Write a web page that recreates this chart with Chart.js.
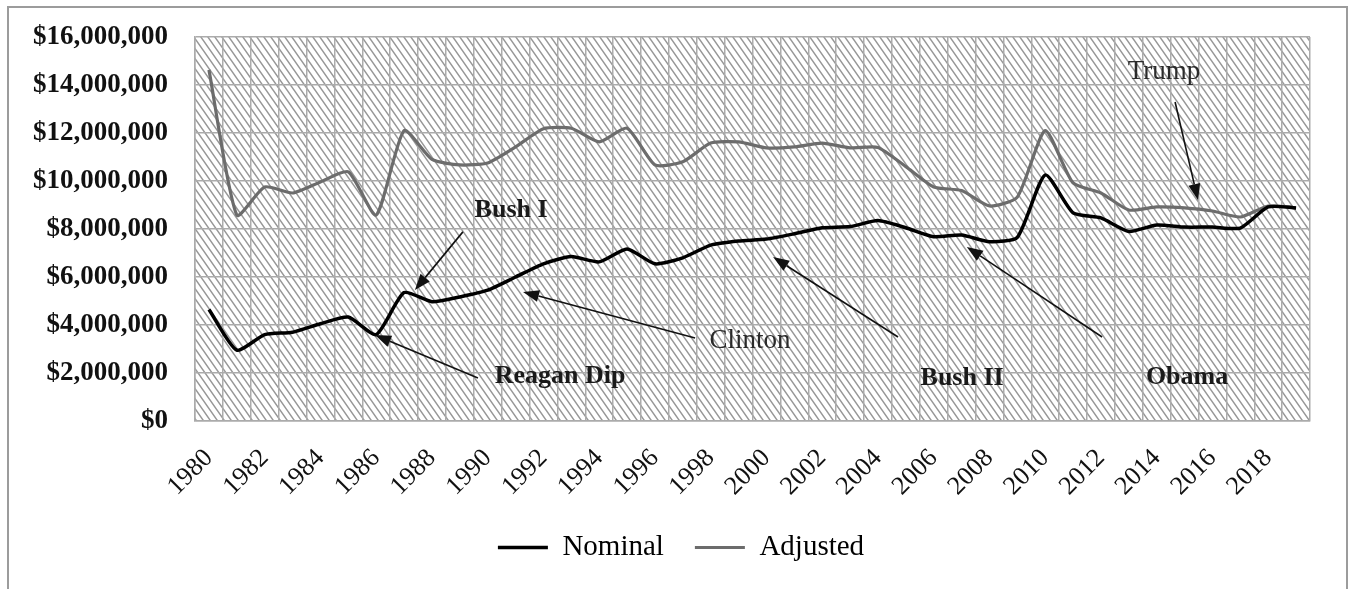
<!DOCTYPE html>
<html>
<head>
<meta charset="utf-8">
<title>Nominal and Adjusted, 1980-2019</title>
<script src="https://cdn.jsdelivr.net/npm/chart.js@4.4.1/dist/chart.umd.min.js"></script>
<style>
  html, body { margin: 0; padding: 0; background: #fff; }
  #wrap { width: 1349px; height: 589px; position: relative; }
</style>
</head>
<body>
<div id="wrap"><canvas id="chart"></canvas></div>
<script>
// Years on the category axis
const years = ['1980', '1981', '1982', '1983', '1984', '1985', '1986', '1987', '1988', '1989',
               '1990', '1991', '1992', '1993', '1994', '1995', '1996', '1997', '1998', '1999',
               '2000', '2001', '2002', '2003', '2004', '2005', '2006', '2007', '2008', '2009',
               '2010', '2011', '2012', '2013', '2014', '2015', '2016', '2017', '2018', '2019'];

// Nominal dollars per year
const nominal = [4650000, 2950000, 3600000, 3700000, 4050000, 4330000, 3600000, 5350000, 4970000, 5170000,
                 5450000, 6000000, 6550000, 6850000, 6630000, 7170000, 6550000, 6800000, 7330000, 7500000,
                 7580000, 7800000, 8050000, 8100000, 8350000, 8050000, 7680000, 7750000, 7470000, 7650000,
                 10250000, 8670000, 8460000, 7900000, 8170000, 8080000, 8080000, 8040000, 8920000, 8880000];

// Inflation-adjusted dollars per year
const adjusted = [14630000, 8580000, 9750000, 9500000, 9960000, 10380000, 8580000, 12100000, 10900000, 10670000,
                  10750000, 11420000, 12180000, 12200000, 11630000, 12200000, 10670000, 10800000, 11580000, 11630000,
                  11380000, 11420000, 11580000, 11380000, 11400000, 10600000, 9750000, 9600000, 8960000, 9330000,
                  12100000, 9920000, 9500000, 8790000, 8920000, 8880000, 8750000, 8500000, 8960000, 8880000];

// Value axis range and step
const yMin = 0;
const yMax = 16000000;
const yStep = 2000000;

// Callouts: label anchor, arrow tail and arrow head, in (year index, $ millions)
const notes = [
  { text: 'Bush I',     bold: true,  at: [10.84, 8.79],  from: [9.11, 7.88],  to: [7.39, 5.46] },
  { text: 'Reagan Dip', bold: true,  at: [12.6, 1.88],   from: [9.65, 1.79],  to: [5.96, 3.58] },
  { text: 'Clinton',    bold: false, at: [19.41, 3.33],  from: [17.44, 3.46], to: [11.27, 5.38] },
  { text: 'Bush II',    bold: true,  at: [27.02, 1.79],  from: [24.72, 3.5],  to: [20.24, 6.83] },
  { text: 'Obama',      bold: true,  at: [35.09, 1.83],  from: [32.04, 3.5],  to: [27.19, 7.25] },
  { text: 'Trump',      bold: false, at: [34.26, 14.54], from: [34.66, 13.29], to: [35.48, 9.21] }
];

const SERIF = "'Liberation Serif', 'Times New Roman', serif";
const GRID = '#ababab';
const Y_FONT = { family: SERIF, size: 27, weight: 'bold', lineHeight: 1.2 };
const Y_GAP = 27;   // space between the value labels and the plot

const money = v => '$' + Number(v).toLocaleString('en-US');

// width of the widest value label, so the labels can be right-aligned beside the plot
function widestValueLabel() {
  const g = document.createElement('canvas').getContext('2d');
  g.font = 'bold 27px ' + SERIF;
  let w = 0;
  for (let v = yMin; v <= yMax; v += yStep) w = Math.max(w, g.measureText(money(v)).width);
  return w;
}
const yLabelWidth = widestValueLabel();

// Diagonal hatch used as the plot background
function makeHatch(ctx) {
  const w = 7, h = 10;
  const tile = document.createElement('canvas');
  tile.width = w; tile.height = h;
  const g = tile.getContext('2d');
  g.fillStyle = '#ffffff';
  g.fillRect(0, 0, w, h);
  g.strokeStyle = '#979797';
  g.lineWidth = 1.5;
  g.beginPath();
  for (let k = -1; k <= 1; k++) {
    g.moveTo(k * w - w, -h);
    g.lineTo(k * w + 2 * w, 2 * h);
  }
  g.stroke();
  return ctx.createPattern(tile, 'repeat');
}

const backdrop = {
  id: 'backdrop',
  beforeDraw(chart) {
    const { ctx, chartArea: a } = chart;
    ctx.save();
    ctx.fillStyle = '#ffffff';
    ctx.fillRect(0, 0, chart.width, chart.height);
    if (!chart.$hatch) chart.$hatch = makeHatch(ctx);
    ctx.fillStyle = chart.$hatch;
    ctx.fillRect(a.left, a.top, a.right - a.left, a.bottom - a.top);
    // outer frame
    ctx.strokeStyle = '#9c9c9c';
    ctx.lineWidth = 2;
    ctx.beginPath();
    ctx.moveTo(8, chart.height + 10);
    ctx.lineTo(8, 7);
    ctx.lineTo(chart.width - 2, 7);
    ctx.lineTo(chart.width - 2, chart.height + 10);
    ctx.stroke();
    ctx.restore();
  }
};

const callouts = {
  id: 'callouts',
  afterDatasetsDraw(chart) {
    const { ctx, scales: { x, y } } = chart;
    const pt = p => [x.getPixelForValue(p[0]), y.getPixelForValue(p[1] * 1e6)];
    ctx.save();
    notes.forEach(n => {
      const [x0, y0] = pt(n.from);
      const [x1, y1] = pt(n.to);
      const ang = Math.atan2(y1 - y0, x1 - x0);
      const len = 16, half = 6;
      const bx = x1 - len * Math.cos(ang), by = y1 - len * Math.sin(ang);
      ctx.strokeStyle = '#111';
      ctx.fillStyle = '#111';
      ctx.lineWidth = 1.6;
      ctx.beginPath();
      ctx.moveTo(x0, y0);
      ctx.lineTo(bx, by);
      ctx.stroke();
      ctx.beginPath();
      ctx.moveTo(x1, y1);
      ctx.lineTo(bx + half * Math.sin(ang), by - half * Math.cos(ang));
      ctx.lineTo(bx - half * Math.sin(ang), by + half * Math.cos(ang));
      ctx.closePath();
      ctx.fill();

      const [tx, ty] = pt(n.at);
      ctx.font = (n.bold ? 'bold 26px ' : '27px ') + SERIF;
      ctx.fillStyle = n.bold ? '#1a1a1a' : '#2a2a2a';
      ctx.textAlign = 'center';
      ctx.textBaseline = 'middle';
      ctx.fillText(n.text, tx, ty);
    });
    ctx.restore();
  }
};

new Chart(document.getElementById('chart'), {
  type: 'line',
  data: {
    labels: years,
    datasets: [
      {
        label: 'Nominal',
        data: nominal,
        borderColor: '#000000',
        backgroundColor: '#000000',
        borderWidth: 3.5,
        pointRadius: 0,
        tension: 0.2,
        borderJoinStyle: 'round',
        order: 1
      },
      {
        label: 'Adjusted',
        data: adjusted,
        borderColor: '#6c6c6c',
        backgroundColor: '#6c6c6c',
        borderWidth: 3.2,
        pointRadius: 0,
        tension: 0.2,
        borderJoinStyle: 'round',
        order: 2
      }
    ]
  },
  options: {
    responsive: true,
    maintainAspectRatio: false,
    animation: false,
    devicePixelRatio: 1,
    layout: { padding: { top: 37, right: 39, left: 52, bottom: 17 } },
    plugins: {
      tooltip: { enabled: false },
      legend: {
        position: 'bottom',
        labels: {
          usePointStyle: true,
          pointStyle: 'line',
          pointStyleWidth: 50,
          padding: 31,
          color: '#000',
          font: { family: SERIF, size: 29 }
        }
      }
    },
    scales: {
      x: {
        offset: true,
        grid: { offset: true, color: GRID, lineWidth: 1.5, drawTicks: false },
        border: { color: GRID, width: 1.5 },
        ticks: {
          autoSkip: false,
          minRotation: 45,
          maxRotation: 45,
          padding: 22,
          color: '#111',
          font: { family: SERIF, size: 26 },
          callback: (v, i) => (i % 2 === 0 ? years[i] : '')
        },
        afterFit: s => { s.height = 81; }
      },
      y: {
        min: yMin,
        max: yMax,
        grid: { color: GRID, lineWidth: 1.5, drawTicks: false },
        border: { color: GRID, width: 1.5 },
        ticks: {
          stepSize: yStep,
          // labels are placed from the axis line, right-aligned, Y_GAP to its left
          mirror: true,
          crossAlign: 'far',
          padding: -(Y_GAP + yLabelWidth),
          color: '#111',
          font: Y_FONT,
          callback: money
        },
        afterFit: s => { s.width = 143; }
      }
    }
  },
  plugins: [backdrop, callouts]
});
</script>
</body>
</html>
